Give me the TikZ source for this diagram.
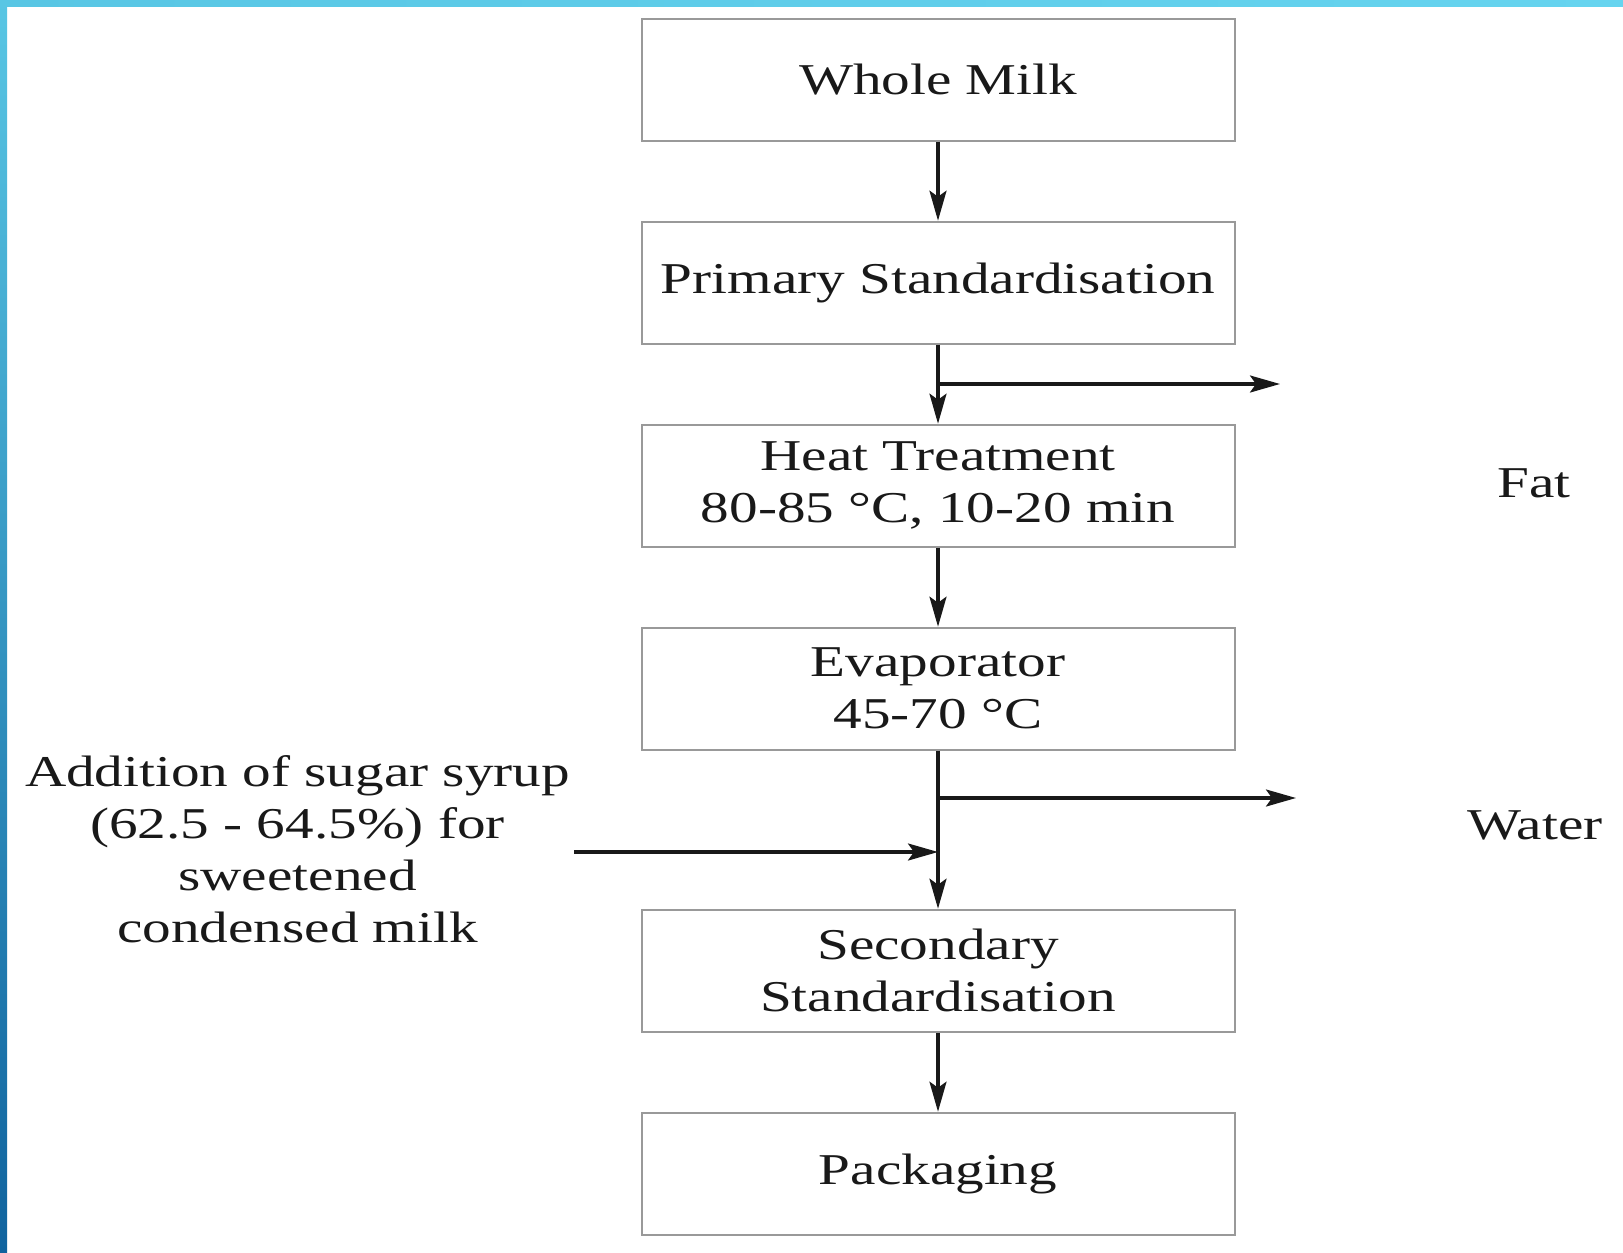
\documentclass[tikz,border=0pt]{standalone}
\usepackage{fontspec}
\setmainfont[FakeStretch=1.3]{Liberation Serif}
\usetikzlibrary{calc}
\usetikzlibrary{positioning}
\usetikzlibrary{arrows.meta}

\definecolor{bandtop}{HTML}{58C6E4}
\definecolor{bandright}{HTML}{66D4EF}
\definecolor{bandbottom}{HTML}{10639E}

\begin{document}
\begin{tikzpicture}[%
  >={Stealth[length=15pt,width=8.5pt,inset=3pt]},
  x=0.5pt, y=0.5pt,
  process/.style={draw=black!40, line width=1pt, fill=white,
    minimum width=296.5pt, minimum height=61pt, inner sep=2pt,
    align=center, text=black!90},
  flow/.style={->, line width=1.6pt, black!90},
  every node/.style={font=\fontsize{22}{26}\selectfont},
]

  % page and border bands
  \useasboundingbox (0,0) rectangle (1623,-1253);
  \fill[white] (0,0) rectangle (1623,-1253);
  \shade[left color=bandtop, right color=bandright] (0,0) rectangle (1623,-6);
  \shade[top color=bandtop, bottom color=bandbottom] (0,0) rectangle (7,-1253);

  % process steps
  \node[process] (milk) at (938,-79.7) {Whole Milk};
  \node[process, below=39.5pt of milk] (primary) {Primary Standardisation};
  \node[process, below=39.5pt of primary] (heat) {Heat Treatment\\80-85 °C, 10-20 min};
  \node[process, below=39.5pt of heat] (evap) {Evaporator\\45-70 °C};
  \node[process, below=79pt of evap] (secondary) {Secondary\\Standardisation};
  \node[process, below=39.5pt of secondary] (pack) {Packaging};

  % side streams
  \node[text=black!90] (fat) at (1534,-483) {Fat};
  \node[text=black!90] (water) at (1535,-825) {Water};
  \node[text=black!90, align=center] (sugar) at (297.5,-849)
    {Addition of sugar syrup\\(62.5 - 64.5\%) for\\sweetened\\condensed milk};

  \coordinate (fatout) at (1280,-384);
  \coordinate (waterout) at (1296,-798);
  \coordinate (sugarin) at (574,-852);

  \draw[flow] (milk) -- (primary);
  \draw[flow] (primary) -- (heat);
  \draw[flow] (heat) -- (evap);
  \draw[flow] (evap) -- (secondary);
  \draw[flow] (secondary) -- (pack);

  \draw[flow] (fatout -| primary.south) -- (fatout);
  \draw[flow] (waterout -| evap.south) -- (waterout);
  \draw[flow] (sugarin) -- (sugarin -| evap.south);

\end{tikzpicture}
\end{document}
